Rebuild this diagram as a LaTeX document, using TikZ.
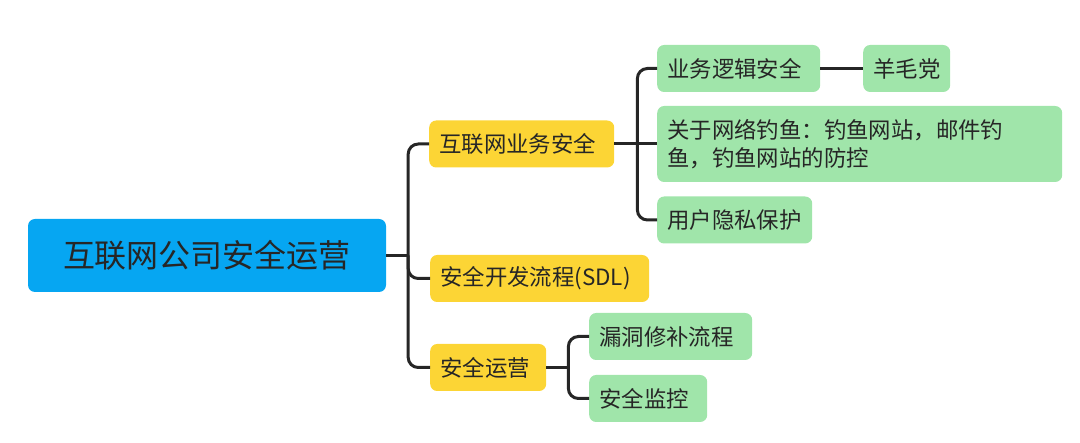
\documentclass[tikz,border=0pt]{standalone}
\usepackage{fontspec}
\newfontfamily\cjk{Noto Sans CJK SC}
\definecolor{rootblue}{HTML}{06A6F2}
\definecolor{topicyellow}{HTML}{FCD535}
\definecolor{subgreen}{HTML}{A0E5AA}
\definecolor{inkgray}{HTML}{262626}
\tikzset{
  box/.style={
    rounded corners=7pt,
    text=inkgray,
    inner xsep=10pt,
    inner ysep=0pt,
    align=left,
    anchor=west
  },
  rootbox/.style={
    box,
    fill=rootblue,
    anchor=center,
    align=center,
    minimum width=358pt,
    minimum height=73pt,
    font=\cjk\fontsize{32}{38}\selectfont
  },
  topic/.style={
    box,
    fill=topicyellow,
    minimum height=47pt,
    font=\cjk\fontsize{22.4}{28}\selectfont
  },
  subtopic/.style={
    box,
    fill=subgreen,
    minimum height=47pt,
    font=\cjk\fontsize{22.4}{28}\selectfont
  },
  branch/.style={
    draw=inkgray,
    line width=3pt,
    rounded corners=10pt
  }
}

\begin{document}
\begin{tikzpicture}[x=1pt,y=-1pt]
  \useasboundingbox (0,0) rectangle (1080,443);
  \node[rootbox] (root) at (207,255.5) {互联网公司安全运营};
  \node[topic, text width=165pt] (web) at (429,144) {互联网业务安全};
  \node[topic, text width=199pt] (sdl) at (430,278.5) {安全开发流程(SDL)};
  \node[topic, text width=96pt] (ops) at (430,367.5) {安全运营};
  \node[subtopic, text width=143pt] (logic) at (657,68.5) {业务逻辑安全};
  \node[subtopic, text width=67pt] (wool) at (863,68.5) {羊毛党};
  \node[subtopic, text width=385pt, minimum height=76pt] (phish) at (657,144) {关于网络钓鱼：钓鱼网站，邮件钓\\鱼，钓鱼网站的防控};
  \node[subtopic, text width=135pt] (privacy) at (657,220) {用户隐私保护};
  \node[subtopic, text width=143pt] (patch) at (589,336.5) {漏洞修补流程};
  \node[subtopic, text width=98pt] (monitor) at (589,398.5) {安全监控};

  \draw[branch] (root.east) -- ++(22,0) coordinate (rootfork);
  \draw[branch] (web.west) -| (rootfork) |- (ops.west);
  \draw[branch] (rootfork) |- (sdl.west);
  \draw[branch] (web.east) -- ++(23,0) coordinate (webfork);
  \draw[branch] (logic.west) -| (webfork) |- (privacy.west);
  \draw[branch] (webfork) -- (phish.west);
  \draw[branch] (logic.east) -- (wool.west);
  \draw[branch] (ops.east) -- ++(22,0) coordinate (opsfork);
  \draw[branch] (patch.west) -| (opsfork) |- (monitor.west);
\end{tikzpicture}
\end{document}
